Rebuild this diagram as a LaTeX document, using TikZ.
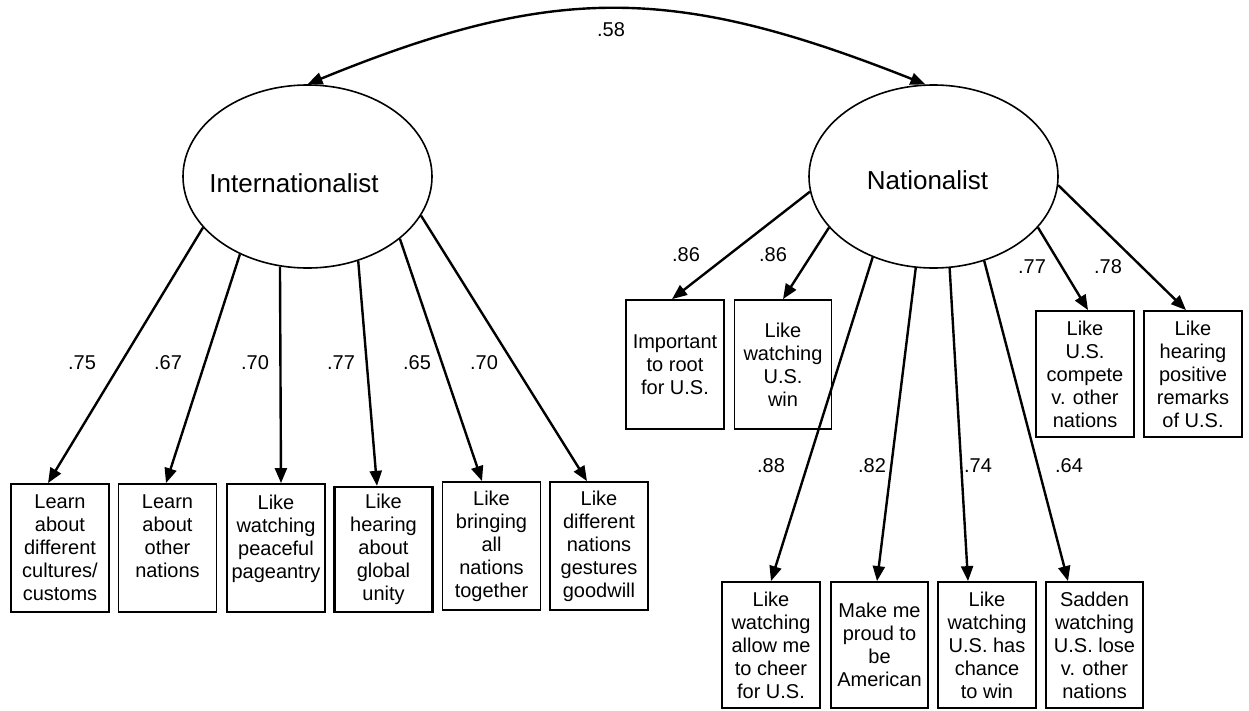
\documentclass[tikz,border=0pt]{standalone}
\usepackage{fontspec}
\setmainfont{Liberation Sans}
\usetikzlibrary{shapes.geometric,arrows.meta,calc}
\tikzset{
  latent/.style={ellipse,draw,line width=1.6pt,minimum width=249pt,minimum height=183pt,inner sep=0pt},
  latlab/.style={font=\fontsize{26}{30}\selectfont,inner sep=0pt},
  obs/.style={draw,line width=1.8pt,minimum width=98pt,inner sep=0pt,align=center,font=\fontsize{20}{23}\selectfont},
  obsL/.style={obs,minimum height=128pt},
  obsR/.style={obs,minimum height=129pt},
  obsC/.style={obs,minimum height=126pt},
  coef/.style={font=\fontsize{20}{23}\selectfont,inner sep=0pt},
  arr/.style={line width=2.4pt,-{Triangle[length=15pt,width=12pt]}},
  dbl/.style={line width=2.4pt,{Triangle[length=15pt,width=12pt]}-{Triangle[length=15pt,width=12pt]}}
}
\begin{document}
\begin{tikzpicture}[x=1pt,y=-1pt]
\useasboundingbox[fill=white] (0,0) rectangle (1249,710);
% latent variables
\node[latent] (I) at (307.5,176.5) {};
\node[latlab] (Ilab) at (294,183) {Internationalist};
\node[latent] (N) at (933.5,176.5) {};
\node[latlab] (Nlab) at (927.5,180) {Nationalist};
% left indicators
\node[obsL] (b1) at (60,548) {Learn\\about\\different\\cultures/\\customs};
\node[obsL] (b2) at (167.5,548) {Learn\\about\\other\\nations\\\mbox{}};
\node[obsL] (b3) at (276,548) {Like\\watching\\peaceful\\pageantry\\\mbox{}};
\node[obs,minimum height=125pt,line width=2.3pt] (b4) at (383.5,549.5) {Like\\hearing\\about\\global\\unity};
\node[obsL] (b5) at (491.5,546) {Like\\bringing\\all\\nations\\together};
\node[obsL] (b6) at (599,546) {Like\\different\\nations\\gestures\\goodwill};
% right upper indicators
\node[obsR] (r1) at (675,364.5) {Important\\to root\\for U.S.};
\node[obsR,minimum width=97pt] (r2) at (783,364.5) {Like\\watching\\U.S.\\win};
\node[obsC] (r3) at (1085,374) {Like\\U.S.\\compete\\v. other\\nations};
\node[obsC] (r4) at (1193,374) {Like\\hearing\\positive\\remarks\\of U.S.};
% right lower indicators
\node[obsC] (l1) at (771,645) {Like\\watching\\allow me\\to cheer\\for U.S.};
\node[obsC,minimum width=97pt] (l2) at (879.5,645) {Make me\\proud to\\be\\American};
\node[obsC] (l3) at (987,645) {Like\\watching\\U.S. has\\chance\\to win};
\node[obsC,minimum width=97pt] (l4) at (1094.5,645) {Sadden\\watching\\U.S. lose\\v. other\\nations};
% correlation
\draw[dbl] (I.north) .. controls (555,-17) and (675,-15) .. (N.95);
\node[coef] (c0) at (611,30) {.58};
% loadings Internationalist
\draw[arr] (I.206) -- ($(b1.north)+(-12,0)$);
\draw[arr] (I.229.5) -- ($(b2.north)+(-1.5,0)$);
\draw[arr] (I.253.8) -- ($(b3.north)+(5,0)$);
\draw[arr] (I.301.3) -- ($(b4.north)+(-6.5,0)$);
\draw[arr] (I.326.8) -- ($(b5.north)+(-9.5,0)$);
\draw[arr] (I.341.3) -- ($(b6.north)+(-12,0)$);
\node[coef] (c1) at (82,363) {.75};
\node[coef] (c2) at (168,363) {.67};
\node[coef] (c3) at (255,363) {.70};
\node[coef] (c4) at (341,363) {.77};
\node[coef] (c5) at (417,363) {.65};
\node[coef] (c6) at (484,363) {.70};
% loadings Nationalist
\draw[arr] (N.187.5) -- ($(r1.north)+(-3,0)$);
\draw[arr] (N.206) -- (r2.north);
\draw[arr] (N.233.4) -- (l1.north);
\draw[arr] (N.259.2) -- ($(l2.north)+(-2.5,0)$);
\draw[arr] (N.280.2) -- ($(l3.north)+(-19,0)$);
\draw[arr] (N.301.3) -- ($(l4.north)+(-26.5,0)$);
\draw[arr] (N.334) -- ($(r3.north)+(3,0)$);
\draw[arr] (N.356.6) -- ($(r4.north)+(-7,0)$);
\node[coef] (d1) at (686,255) {.86};
\node[coef] (d2) at (773,255) {.86};
\node[coef] (d3) at (1032,267) {.77};
\node[coef] (d4) at (1108,267) {.78};
\node[coef] (d5) at (771,466) {.88};
\node[coef] (d6) at (872,466) {.82};
\node[coef] (d7) at (978,466) {.74};
\node[coef] (d8) at (1069,466) {.64};
\end{tikzpicture}
\end{document}
